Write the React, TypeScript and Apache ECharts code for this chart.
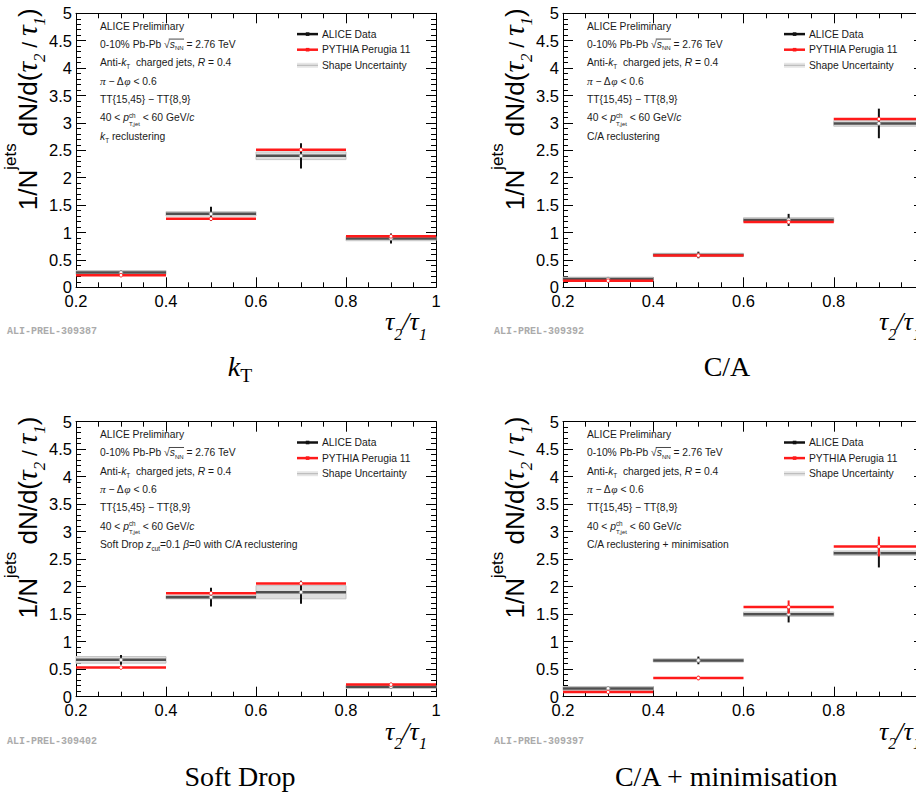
import React, { useEffect, useRef } from "react";
import * as echarts from "echarts";

// ---------------- data ----------------
const binEdges = [0.2, 0.4, 0.6, 0.8, 1.0];
const xTickValues = [0.2, 0.4, 0.6, 0.8, 1.0];
const yTickValues = [0, 0.5, 1, 1.5, 2, 2.5, 3, 3.5, 4, 4.5, 5];

const panelTitles = ["kT", "C/A", "Soft Drop", "C/A + minimisation"];
const prelimIds = ["ALI-PREL-309387", "ALI-PREL-309392", "ALI-PREL-309402", "ALI-PREL-309397"];
const legendLabels = ["ALICE Data", "PYTHIA Perugia 11", "Shape Uncertainty"];

// k_T reclustering
const ktData = [0.27, 1.34, 2.4, 0.89];
const ktStat = [0.03, 0.13, 0.23, 0.09];
const ktShape = [0.035, 0.04, 0.07, 0.04];
const ktPythia = [0.22, 1.25, 2.51, 0.93];
const ktPythiaErr = [0.01, 0.02, 0.03, 0.02];
// C/A reclustering
const caData = [0.15, 0.59, 1.23, 2.99];
const caStat = [0.02, 0.06, 0.11, 0.27];
const caShape = [0.035, 0.03, 0.04, 0.05];
const caPythia = [0.12, 0.58, 1.19, 3.07];
const caPythiaErr = [0.01, 0.01, 0.02, 0.03];
// Soft Drop
const sdData = [0.67, 1.81, 1.9, 0.18];
const sdStat = [0.09, 0.17, 0.21, 0.02];
const sdShape = [0.06, 0.03, 0.12, 0.03];
const sdPythia = [0.53, 1.88, 2.06, 0.22];
const sdPythiaErr = [0.01, 0.02, 0.02, 0.01];
// C/A + minimisation
const cmData = [0.15, 0.66, 1.5, 2.61];
const cmStat = [0.02, 0.07, 0.15, 0.26];
const cmShape = [0.035, 0.03, 0.04, 0.04];
const cmPythia = [0.085, 0.34, 1.63, 2.73];
const cmPythiaErr = [0.02, 0.04, 0.12, 0.18];

const panelData = [
  { data: ktData, stat: ktStat, shape: ktShape, py: ktPythia, pyErr: ktPythiaErr },
  { data: caData, stat: caStat, shape: caShape, py: caPythia, pyErr: caPythiaErr },
  { data: sdData, stat: sdStat, shape: sdShape, py: sdPythia, pyErr: sdPythiaErr },
  { data: cmData, stat: cmStat, shape: cmShape, py: cmPythia, pyErr: cmPythiaErr },
];

// ---------------- layout ----------------
const CANVAS_W = 950;
const LAYOUT = [
  { left: 76, top: 13.3, width: 360, height: 274, xt: 309 },
  { left: 563, top: 13.3, width: 361, height: 274, xt: 316 },
  { left: 76, top: 421.7, width: 360, height: 275, xt: 309 },
  { left: 563, top: 421.7, width: 361, height: 275, xt: 316 },
];

const SANS = '"Liberation Sans", Arial, Helvetica, sans-serif';
const SERIF = '"Liberation Serif", "Times New Roman", serif';
const MONO = '"Liberation Mono", "Courier New", monospace';

type Seg = { t: string; it?: boolean; serif?: boolean; sc?: number; dy?: number; na?: boolean; ol?: boolean };

let ctx: CanvasRenderingContext2D | null = null;
function measure(t: string, font: string) {
  if (!ctx) ctx = document.createElement("canvas").getContext("2d");
  ctx!.font = font;
  return ctx!.measureText(t).width;
}

function latex(segs: Seg[], x: number, baseY: number, size: number, color: string, align: "left" | "right" | "center" = "left") {
  const items = segs.map((s) => {
    const px = size * (s.sc ?? 1);
    const fam = s.serif ? SERIF : SANS;
    const font = `${s.it ? "italic " : ""}${px}px ${fam}`;
    return { ...s, px, fam, font, w: measure(s.t, font) };
  });
  let total = 0;
  items.forEach((it) => {
    if (!it.na) total += it.w;
  });
  let cx = align === "left" ? x : align === "right" ? x - total : x - total / 2;
  const els: any[] = [];
  let olStart = -1;
  let olEnd = -1;
  for (const it of items) {
    const trimmed = it.t.trim();
    const lead = it.t.length - it.t.trimStart().length;
    const off = lead > 0 ? measure(it.t.slice(0, lead), it.font) : 0;
    if (trimmed.length) {
      els.push({
        type: "text",
        x: cx + off,
        y: baseY - 0.34 * it.px + (it.dy ?? 0) * size,
        silent: true,
        style: {
          text: trimmed,
          fontSize: it.px,
          fontFamily: it.fam,
          fontStyle: it.it ? "italic" : "normal",
          fill: color,
          align: "left",
          verticalAlign: "middle",
        },
      });
    }
    if (it.ol) {
      if (olStart < 0) olStart = cx;
      olEnd = cx + it.w;
    }
    if (!it.na) cx += it.w;
  }
  if (olStart >= 0) {
    els.push({
      type: "line",
      silent: true,
      shape: { x1: olStart - 1, y1: baseY - 0.86 * size, x2: olEnd + 0.5, y2: baseY - 0.86 * size },
      style: { stroke: color, lineWidth: 0.8 },
    });
  }
  return els;
}

const reclLines: Seg[][] = [
  [{ t: "k", it: true }, { t: "T", sc: 0.62, dy: 0.25 }, { t: " reclustering" }],
  [{ t: "C/A reclustering" }],
  [
    { t: "Soft Drop " },
    { t: "z", it: true },
    { t: "cut", sc: 0.62, dy: 0.25 },
    { t: "=0.1 " },
    { t: "β", it: true },
    { t: "=0 with C/A reclustering" },
  ],
  [{ t: "C/A reclustering + minimisation" }],
];

function infoLines(p: number): Seg[][] {
  return [
    [{ t: "ALICE Preliminary" }],
    [{ t: "0-10% Pb-Pb " }, { t: "√" }, { t: "s", it: true, ol: true }, { t: "NN", sc: 0.58, dy: 0.25, ol: true }, { t: " = 2.76 TeV" }],
    [{ t: "Anti-" }, { t: "k", it: true }, { t: "T", sc: 0.62, dy: 0.25 }, { t: "  charged jets, " }, { t: "R", it: true }, { t: " = 0.4" }],
    [{ t: "π", it: true, serif: true, sc: 1.1 }, { t: " − Δ" }, { t: "φ", it: true, serif: true, sc: 1.1 }, { t: " < 0.6" }],
    [{ t: "TT{15,45} − TT{8,9}" }],
    [
      { t: "40 < " },
      { t: "p", it: true },
      { t: "ch", sc: 0.62, dy: -0.4, na: true },
      { t: "T,jet", sc: 0.58, dy: 0.45 },
      { t: " < 60 GeV/" },
      { t: "c", it: true },
    ],
    reclLines[p],
  ];
}

const yTitleSegs: Seg[] = [
  { t: "1/N" },
  { t: "jets", sc: 0.65, dy: -0.8 },
  { t: " dN/d(" },
  { t: "τ", it: true, serif: true, sc: 1.15 },
  { t: "2", it: true, serif: true, sc: 0.65, dy: 0.3 },
  { t: " / ", sc: 0.8 },
  { t: "τ", it: true, serif: true, sc: 1.15 },
  { t: "1", it: true, serif: true, sc: 0.65, dy: 0.3 },
  { t: ")" },
];

const xTitleSegs: Seg[] = [
  { t: "τ", it: true, serif: true },
  { t: "2", it: true, serif: true, sc: 0.62, dy: 0.34 },
  { t: "/", it: true, serif: true },
  { t: "τ", it: true, serif: true },
  { t: "1", it: true, serif: true, sc: 0.62, dy: 0.34 },
];

function panelLabelSegs(p: number): Seg[] {
  if (p === 0) return [{ t: "k", it: true, serif: true }, { t: "T", serif: true, sc: 0.7, dy: 0.2 }];
  return [{ t: panelTitles[p], serif: true }];
}

const fmt = (v: number) => String(Math.round(v * 100) / 100);

function renderBand(_params: any, api: any) {
  const x0 = api.value(0), x1 = api.value(1), v = api.value(2), e = api.value(3);
  const a = api.coord([x0, v + e]);
  const b = api.coord([x1, v - e]);
  return {
    type: "rect",
    shape: { x: a[0], y: a[1], width: b[0] - a[0], height: b[1] - a[1] },
    style: { fill: "#dedede", stroke: "#c4c4c4", lineWidth: 1 },
  };
}

function makeRenderer(lineColor: string, barColor: string, markerStroke: string) {
  return (_params: any, api: any) => {
    const x0 = api.value(0), x1 = api.value(1), v = api.value(2), e = api.value(3);
    const xc = (x0 + x1) / 2;
    const l = api.coord([x0, v]);
    const r = api.coord([x1, v]);
    const c = api.coord([xc, v]);
    const t = api.coord([xc, v + e]);
    const b = api.coord([xc, v - e]);
    return {
      type: "group",
      children: [
        { type: "line", shape: { x1: l[0], y1: l[1], x2: r[0], y2: r[1] }, style: { stroke: lineColor, lineWidth: 2.5 } },
        { type: "line", shape: { x1: c[0], y1: t[1], x2: c[0], y2: b[1] }, style: { stroke: barColor, lineWidth: 2 } },
        { type: "circle", shape: { cx: c[0], cy: c[1], r: 1.8 }, style: { fill: "#ffffff", stroke: markerStroke, lineWidth: 0.9 } },
      ],
    };
  };
}

function buildOption() {
  const grid: any[] = [];
  const xAxis: any[] = [];
  const yAxis: any[] = [];
  const series: any[] = [];
  const elements: any[] = [];

  LAYOUT.forEach((g, i) => {
    grid.push({ left: g.left, top: g.top, width: g.width, height: g.height, show: false, containLabel: false });
    const line = { show: true, onZero: false, lineStyle: { color: "#000", width: 1 } };
    const xBase = {
      type: "value",
      gridIndex: i,
      min: xTickValues[0],
      max: xTickValues[xTickValues.length - 1],
      interval: 0.2,
      axisLine: line,
      splitLine: { show: false },
      axisTick: { show: true, inside: true, length: 10, lineStyle: { color: "#000", width: 1 } },
      minorTick: { show: true, splitNumber: 4, length: 5, lineStyle: { color: "#000", width: 1 } },
    };
    xAxis.push({
      ...xBase,
      position: "bottom",
      axisLabel: { show: true, margin: 5, color: "#000", fontSize: 16.5, fontFamily: SANS, formatter: fmt },
    });
    xAxis.push({ ...xBase, position: "top", axisLabel: { show: false } });
    const yBase = {
      type: "value",
      gridIndex: i,
      min: yTickValues[0],
      max: yTickValues[yTickValues.length - 1],
      interval: 0.5,
      axisLine: line,
      splitLine: { show: false },
      axisTick: { show: true, inside: true, length: 10, lineStyle: { color: "#000", width: 1 } },
      minorTick: { show: true, splitNumber: 5, length: 5, lineStyle: { color: "#000", width: 1 } },
    };
    yAxis.push({
      ...yBase,
      position: "left",
      axisLabel: { show: true, margin: 4, color: "#000", fontSize: 16.5, fontFamily: SANS, formatter: fmt },
    });
    yAxis.push({ ...yBase, position: "right", axisLabel: { show: false } });

    const pd = panelData[i];
    series.push({
      type: "custom",
      name: legendLabels[2],
      xAxisIndex: 2 * i,
      yAxisIndex: 2 * i,
      silent: true,
      z: 2,
      data: pd.data.map((v, k) => [binEdges[k], binEdges[k + 1], v, pd.shape[k]]),
      encode: { x: [0, 1], y: 2 },
      renderItem: renderBand,
    });
    series.push({
      type: "custom",
      name: legendLabels[0],
      xAxisIndex: 2 * i,
      yAxisIndex: 2 * i,
      silent: true,
      z: 3,
      data: pd.data.map((v, k) => [binEdges[k], binEdges[k + 1], v, pd.stat[k]]),
      encode: { x: [0, 1], y: 2 },
      renderItem: makeRenderer("#4f4f4f", "#111111", "#8a8a8a"),
    });
    series.push({
      type: "custom",
      name: legendLabels[1],
      xAxisIndex: 2 * i,
      yAxisIndex: 2 * i,
      silent: true,
      z: 4,
      data: pd.py.map((v, k) => [binEdges[k], binEdges[k + 1], v, pd.pyErr[k]]),
      encode: { x: [0, 1], y: 2 },
      renderItem: makeRenderer("#ff1a1a", "#ff1a1a", "#ff1a1a"),
    });

    const gl = g.left;
    const gt = g.top;
    const gb = g.top + g.height;

    // info text block
    infoLines(i).forEach((segs, k) => {
      const center = gt + 12.7 + 18.35 * k;
      elements.push(...latex(segs, gl + 24, center + 3.6, 10.3, "#1a1a1a"));
    });

    // legend
    const legColors = ["#111111", "#ff1a1a", "#9a9a9a"];
    legendLabels.forEach((lab, k) => {
      const yc = gt + 20.8 + 15.6 * k;
      if (k === 2) {
        elements.push({ type: "rect", silent: true, shape: { x: gl + 221, y: yc - 2.5, width: 21, height: 5 }, style: { fill: "#e6e6e6" } });
        elements.push({ type: "line", silent: true, shape: { x1: gl + 221, y1: yc, x2: gl + 242, y2: yc }, style: { stroke: "#b4b4b4", lineWidth: 1 } });
      } else {
        elements.push({ type: "line", silent: true, shape: { x1: gl + 221, y1: yc, x2: gl + 242, y2: yc }, style: { stroke: legColors[k], lineWidth: 2.5 } });
        elements.push({ type: "rect", silent: true, shape: { x: gl + 229.8, y: yc - 1.8, width: 3.6, height: 3.6 }, style: { fill: legColors[k] } });
      }
      elements.push(...latex([{ t: lab }], gl + 246, yc + 3.6, 10.3, "#1a1a1a"));
    });

    // y title (rotated)
    elements.push({
      type: "group",
      x: gl - 48,
      y: gt - 5,
      rotation: Math.PI / 2,
      children: latex(yTitleSegs, 0, 9, 26, "#000", "right"),
    });

    // x title
    elements.push(...latex(xTitleSegs, gl + g.xt, gb + 43.5, 26, "#000", "left"));

    // preliminary id
    elements.push({
      type: "text",
      silent: true,
      x: gl - 69,
      y: gb + 44.5,
      style: { text: prelimIds[i], fontSize: 10, fontFamily: MONO, fontWeight: "bold", fill: "#ababab", align: "left", verticalAlign: "middle" },
    });

    // panel caption
    elements.push(...latex(panelLabelSegs(i), gl + 164, gb + 89, 28, "#000", "center"));
  });

  return {
    animation: false,
    backgroundColor: "#ffffff",
    grid,
    xAxis,
    yAxis,
    series,
    graphic: { elements },
  };
}

export default function App() {
  const ref = useRef<HTMLDivElement>(null);
  useEffect(() => {
    const el = ref.current;
    if (!el) return;
    const chart = echarts.init(el, null, { renderer: "svg", width: CANVAS_W, height: 796 });
    chart.setOption(buildOption() as any);
    return () => chart.dispose();
  }, []);
  return (
    <div style={{ position: "absolute", left: 0, top: 0, width: 916, height: 796, overflow: "hidden", background: "#fff" }}>
      <div ref={ref} style={{ width: CANVAS_W, height: 796 }} />
    </div>
  );
}
